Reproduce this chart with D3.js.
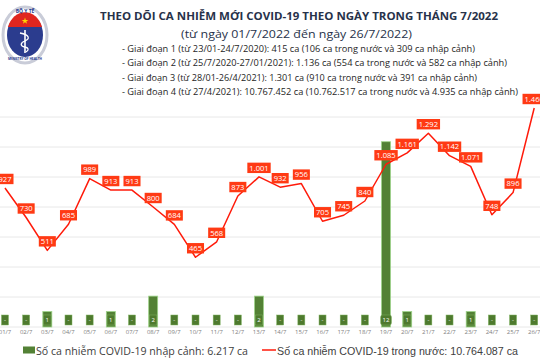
<!DOCTYPE html>
<html><head><meta charset="utf-8">
<script src="https://cdn.jsdelivr.net/npm/d3@7"></script>
<style>html,body{margin:0;padding:0;background:#fff;}svg{display:block;}</style>
</head><body>
<script>
const days = ["01/7","02/7","03/7","04/7","05/7","06/7","07/7","08/7","09/7","10/7","11/7","12/7","13/7","14/7","15/7","16/7","17/7","18/7","19/7","20/7","21/7","22/7","23/7","24/7","25/7","26/7"];
const domestic = [927,730,511,685,989,913,913,800,684,465,568,873,1001,932,956,705,745,840,1085,1161,1292,1142,1071,748,896,1460];
const imported = [0,0,1,0,0,1,0,2,0,0,0,0,2,0,0,0,0,0,12,1,0,0,1,0,0,0];
const title = "THEO DÕI CA NHIỄM MỚI COVID-19 THEO NGÀY TRONG THÁNG 7/2022";
const subtitle = "(từ ngày 01/7/2022 đến ngày 26/7/2022)";
const phases = [
 "- Giai đoạn 1 (từ 23/01-24/7/2020): 415 ca (106 ca trong nước và 309 ca nhập cảnh)",
 "- Giai đoạn 2 (từ 25/7/2020-27/01/2021): 1.136 ca (554 ca trong nước và 582 ca nhập cảnh)",
 "- Giai đoạn 3 (từ 28/01-26/4/2021): 1.301 ca (910 ca trong nước và 391 ca nhập cảnh)",
 "- Giai đoạn 4 (từ 27/4/2021): 10.767.452 ca (10.762.517 ca trong nước và 4.935 ca nhập cảnh)"
];
const legendImported = "Số ca nhiễm COVID-19 nhập cảnh: 6.217 ca";
const legendDomestic = "Số ca nhiễm COVID-19 trong nước: 10.764.087 ca";

const W = 540, H = 360;
const svg = d3.select("body").append("svg").attr("width", W).attr("height", H);
const fmt = d3.formatLocale({thousands: ".", decimal: ",", grouping: [3], currency: ["", ""]}).format(",");

const x = d3.scaleBand().domain(days).range([-5.6, 544.8]);
const cx = d => x(d) + x.bandwidth() / 2;
const yL = d3.scaleLinear().domain([0, 1400]).range([327, 117]);
const yB = d3.scaleLinear().domain([0, 13.6]).range([327, 117]);

// gridlines
svg.append("g").selectAll("line").data(yL.ticks(7)).join("line")
  .attr("x1", 0).attr("x2", W).attr("y1", d => yL(d)).attr("y2", d => yL(d))
  .attr("stroke", "#e8e8e8").attr("stroke-width", 1);

// bars
const bw = 9;
svg.append("g").selectAll("rect").data(days).join("rect")
  .attr("x", d => cx(d) - bw / 2)
  .attr("y", (d, i) => yB(imported[i]))
  .attr("width", bw)
  .attr("height", (d, i) => yB(0) - yB(imported[i]))
  .attr("fill", "#538135").attr("stroke", "#9fd48a").attr("stroke-width", 0.8);

// bar labels
const bl = svg.append("g");
days.forEach((d, i) => {
  const t = imported[i] === 0 ? "-" : String(imported[i]);
  const g = bl.append("g");
  const txt = g.append("text").attr("x", cx(d)).attr("y", 320).attr("dy", "0.35em")
    .attr("text-anchor", "middle").attr("font-family", "Open Sans").attr("font-size", 6)
    .attr("fill", "#fff").text(t);
  const w = Math.max(7, txt.node().getComputedTextLength() + 4);
  g.insert("rect", "text").attr("x", cx(d) - w / 2).attr("y", 315).attr("width", w).attr("height", 10)
    .attr("rx", imported[i] >= 10 ? 2 : 0)
    .attr("fill", "#4e7a2e").attr("stroke", "#7fb360").attr("stroke-width", 0.5);
});

// x axis labels
const ax = svg.append("g").attr("transform", "translate(0,327)")
  .call(d3.axisBottom(x).tickSize(0).tickPadding(3));
ax.select(".domain").remove();
ax.selectAll("text").attr("font-family", "Open Sans").attr("font-size", 6).attr("fill", "#808080");

// line
svg.append("path").datum(days)
  .attr("d", d3.line().x(d => cx(d)).y((d, i) => yL(domestic[i])))
  .attr("fill", "none").attr("stroke", "#ff1a0a").attr("stroke-width", 1.5).attr("stroke-linejoin", "round");

// line labels
const ll = svg.append("g");
days.forEach((d, i) => {
  const g = ll.append("g");
  const ycen = yL(domestic[i]) - 9;
  const txt = g.append("text").attr("x", cx(d)).attr("y", ycen).attr("dy", "0.36em")
    .attr("text-anchor", "middle").attr("font-family", "Open Sans").attr("font-size", 7.6)
    .attr("fill", "#fff").text(fmt(domestic[i]));
  const w = txt.node().getComputedTextLength() + 4;
  g.insert("rect", "text").attr("x", cx(d) - w / 2).attr("y", ycen - 5.2).attr("width", w).attr("height", 10.4)
    .attr("fill", "#ff3a14");
});

// titles
const dark = "#27324a";
svg.append("text").attr("x", 100).attr("y", 20).attr("font-family", "Open Sans").attr("font-weight", 700)
  .attr("font-size", 11).attr("fill", dark).attr("textLength", 398).attr("lengthAdjust", "spacingAndGlyphs").text(title);
svg.append("text").attr("x", 181).attr("y", 37.5).attr("font-family", "Open Sans")
  .attr("font-size", 11.5).attr("fill", dark).attr("textLength", 231).attr("lengthAdjust", "spacingAndGlyphs").text(subtitle);
const ends = [475, 507, 477, 518];
svg.append("g").selectAll("text").data(phases).join("text")
  .attr("x", 122).attr("y", (d, i) => 51.5 + i * 14.5)
  .attr("font-family", "Open Sans").attr("font-size", 9).attr("fill", "#1e1e1e")
  .attr("textLength", (d, i) => ends[i] - 122).attr("lengthAdjust", "spacingAndGlyphs").text(d => d);

// legend
svg.append("rect").attr("x", 23).attr("y", 346.5).attr("width", 12).attr("height", 7).attr("fill", "#538135");
svg.append("text").attr("x", 36).attr("y", 355).attr("font-family", "Open Sans").attr("font-size", 11.5)
  .attr("fill", "#404040").attr("textLength", 212).attr("lengthAdjust", "spacingAndGlyphs").text(legendImported);
svg.append("line").attr("x1", 262).attr("x2", 276).attr("y1", 350).attr("y2", 350).attr("stroke", "#ff1a0a").attr("stroke-width", 1.5);
svg.append("text").attr("x", 277).attr("y", 355).attr("font-family", "Liberation Sans").attr("font-size", 11.5)
  .attr("fill", "#404040").attr("textLength", 241).attr("lengthAdjust", "spacingAndGlyphs").text(legendDomestic);

// logo
const logo = svg.append("g").attr("transform", "translate(25,35)");
logo.append("ellipse").attr("rx", 22).attr("ry", 28).attr("fill", "#fff").attr("stroke", "#c9ccd8").attr("stroke-width", 3);
logo.append("ellipse").attr("rx", 18).attr("ry", 22).attr("fill", "#2b3c8e");
logo.append("path").attr("d", "M-17,-8 A18,22 0 0 1 17,-8 Z").attr("fill", "#e0261f");
logo.append("path").attr("d", d3.symbol().type(d3.symbolStar).size(14)()).attr("transform", "translate(0,-14)").attr("fill", "#ffd400");
logo.append("line").attr("x1", 0).attr("x2", 0).attr("y1", -5).attr("y2", 18).attr("stroke", "#fff").attr("stroke-width", 1.6);
logo.append("path").attr("d", "M-5,-2 C5,0 5,4 0,6 C-5,8 -5,11 0,12 C4,13 4,15 1,17").attr("fill", "none").attr("stroke", "#fff").attr("stroke-width", 1.3);
logo.append("text").attr("y", -22).attr("text-anchor", "middle").attr("font-family", "Open Sans").attr("font-weight", 700)
  .attr("font-size", 5).attr("fill", "#2b3c8e").text("BỘ Y TẾ");
logo.append("text").attr("y", 25).attr("text-anchor", "middle").attr("font-family", "Open Sans").attr("font-weight", 700)
  .attr("font-size", 3.2).attr("fill", "#2b3c8e").text("MINISTRY OF HEALTH");
</script>
</body></html>
